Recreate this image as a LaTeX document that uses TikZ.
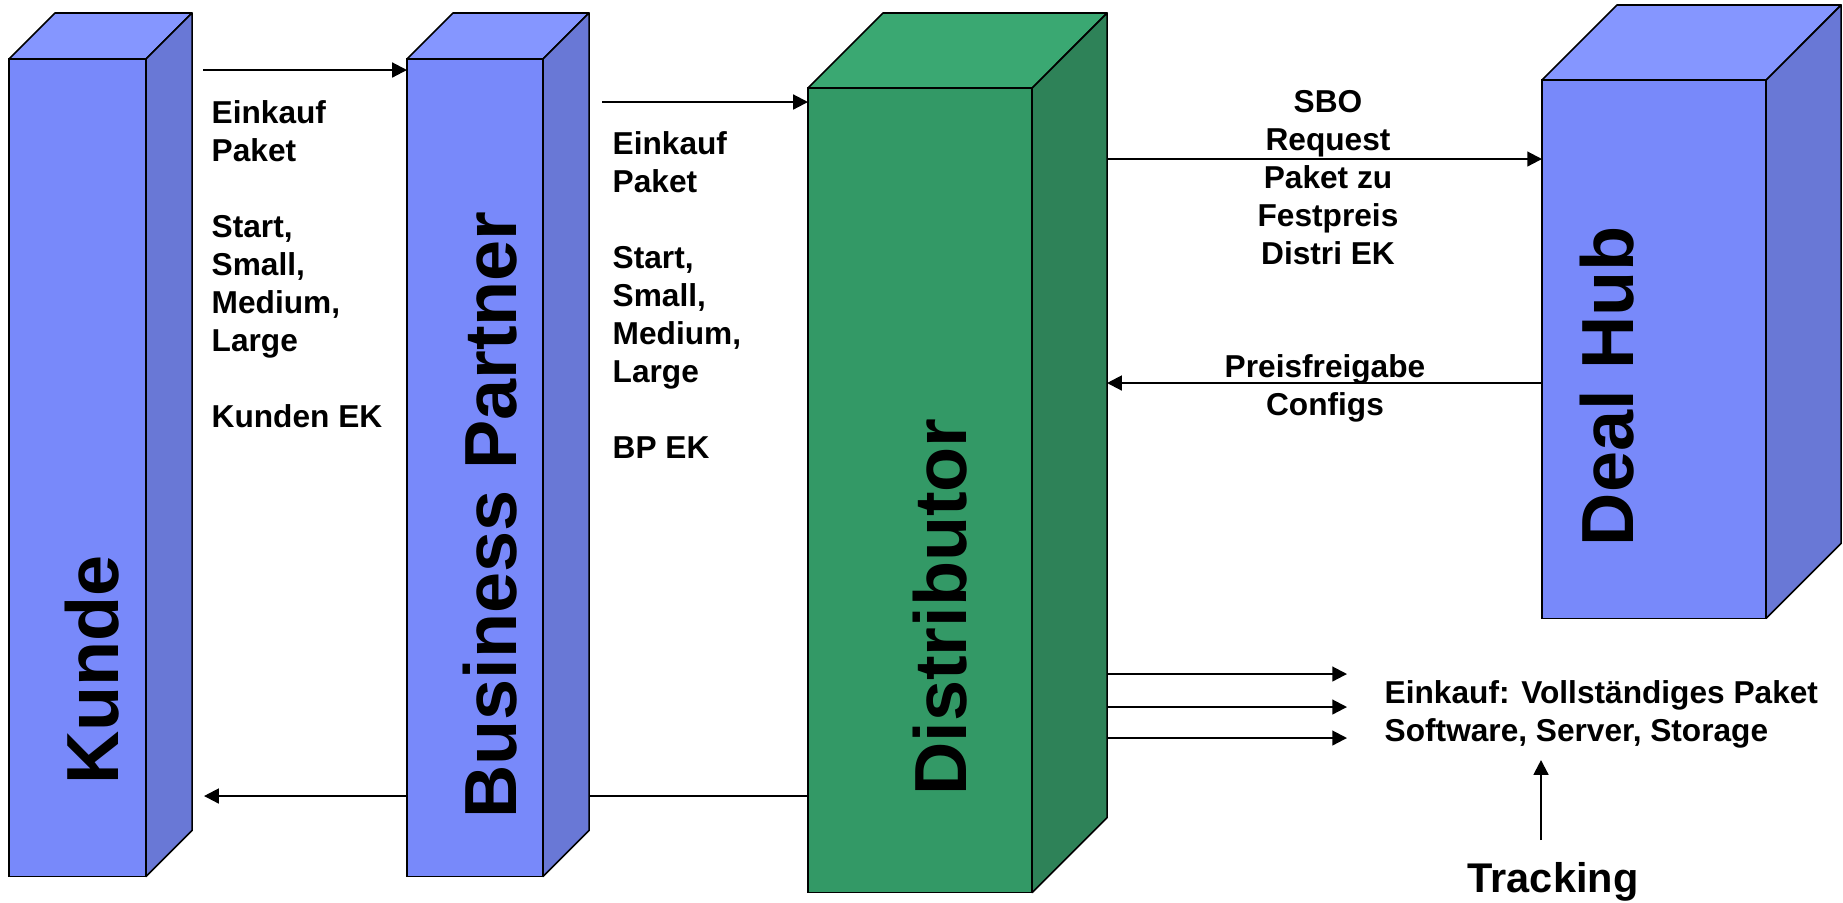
\documentclass[tikz,border=0pt]{standalone}
\usepackage{fontspec}
\setmainfont{Liberation Sans}
\usetikzlibrary{arrows.meta,backgrounds,calc}

\definecolor{bluefront}{HTML}{7889FA}
\definecolor{bluetop}{HTML}{8596FF}
\definecolor{blueside}{HTML}{6978D6}
\definecolor{greenfront}{HTML}{339966}
\definecolor{greentop}{HTML}{3AA872}
\definecolor{greenside}{HTML}{2E8258}

\begin{document}
\begin{tikzpicture}[x=0.01cm,y=-0.01cm,
    face/.style={draw=black,line width=0.45pt,inner sep=0pt,outer sep=0pt,anchor=north west},
    edge/.style={draw=black,line width=0.45pt,line join=round},
    arr/.style={line width=0.6pt,-{Triangle[length=4.2pt,width=4.2pt]}},
    lbl/.style={font=\fontsize{9}{10.8}\selectfont\bfseries,inner sep=0pt,align=left},
    big/.style={font=\fontsize{21}{21}\selectfont\bfseries,rotate=90,inner sep=0pt}]

  \useasboundingbox (0,0) rectangle (1843,902);

  % Kunde
  \node[face,fill=bluefront,minimum width=1.37cm,minimum height=8.17cm] (kunde) at (9,59) {};
  \fill[bluetop,edge] (kunde.north west) -- ++(46,-46) -- ++(137,0) -- (kunde.north east) -- cycle;
  \fill[blueside,edge] (kunde.north east) -- ++(46,-46) -- ($(kunde.south east)+(46,-46)$) -- (kunde.south east) -- cycle;
  \node[big] (kundelbl) at (92,670) {Kunde};

  % Business Partner
  \node[face,fill=bluefront,minimum width=1.36cm,minimum height=8.17cm] (bp) at (407,59) {};
  \fill[bluetop,edge] (bp.north west) -- ++(46,-46) -- ++(136,0) -- (bp.north east) -- cycle;
  \fill[blueside,edge] (bp.north east) -- ++(46,-46) -- ($(bp.south east)+(46,-46)$) -- (bp.south east) -- cycle;
  \node[big] (bplbl) at (490,515) {Business Partner};

  % Distributor
  \node[face,fill=greenfront,minimum width=2.24cm,minimum height=8.04cm] (dist) at (808,88) {};
  \fill[greentop,edge] (dist.north west) -- ++(75,-75) -- ++(224,0) -- (dist.north east) -- cycle;
  \fill[greenside,edge] (dist.north east) -- ++(75,-75) -- ($(dist.south east)+(75,-75)$) -- (dist.south east) -- cycle;
  \node[big] (distlbl) at (940,607) {Distributor};

  % Deal Hub
  \node[face,fill=bluefront,minimum width=2.24cm,minimum height=5.38cm] (hub) at (1542,80) {};
  \fill[bluetop,edge] (hub.north west) -- ++(75,-75) -- ++(224,0) -- (hub.north east) -- cycle;
  \fill[blueside,edge] (hub.north east) -- ++(75,-75) -- ($(hub.south east)+(75,-75)$) -- (hub.south east) -- cycle;
  \node[big] (hublbl) at (1607,386) {Deal Hub};

  % Kunde <-> Business Partner (base = last line)
  \coordinate (a1) at (203,70);
  \draw[arr] (a1) -- (a1 -| bp.west);
  \node[lbl,anchor=base west] (kundetxt) at (211,427)
    {Einkauf\\Paket\\[10.8pt]Start,\\Small,\\Medium,\\Large\\[10.8pt]Kunden EK};

  % Business Partner <-> Distributor
  \coordinate (a2) at (602,102);
  \draw[arr] (a2) -- (a2 -| dist.west);
  \node[lbl,anchor=base west] (bptxt) at (612,458)
    {Einkauf\\Paket\\[10.8pt]Start,\\Small,\\Medium,\\Large\\[10.8pt]BP EK};

  % Distributor back to Kunde, behind the boxes
  \begin{scope}[on background layer]
    \coordinate (a6) at (204,796);
    \draw[arr] (a6 -| dist.west) -- (a6);
  \end{scope}

  % Distributor <-> Deal Hub
  \coordinate (a3) at (1107,159);
  \draw[arr] (a3) -- (a3 -| hub.west);
  \node[lbl,align=center,anchor=base] (sbotxt) at (1328,264) {SBO\\Request\\Paket zu\\Festpreis\\Distri EK};
  \coordinate (a4) at (1107,383);
  \draw[arr] (a4 -| hub.west) -- (a4);
  \node[lbl,align=center,anchor=base] (freitxt) at (1325,415) {Preisfreigabe\\Configs};

  % Einkauf / Tracking
  \foreach \y in {674,707,738}
    \draw[arr] (1107,\y) -- (1347,\y);
  \node[lbl,anchor=base west] (volltxt) at (1384,741) {Einkauf: Vollständiges Paket\\Software, Server, Storage};
  \node[font=\fontsize{11.8}{12}\selectfont\bfseries,inner sep=0pt,anchor=base] (track) at (1553,892) {Tracking};
  \coordinate (a5) at (1541,840);
  \draw[arr] (a5) -- ++(0,-80);

\end{tikzpicture}
\end{document}
